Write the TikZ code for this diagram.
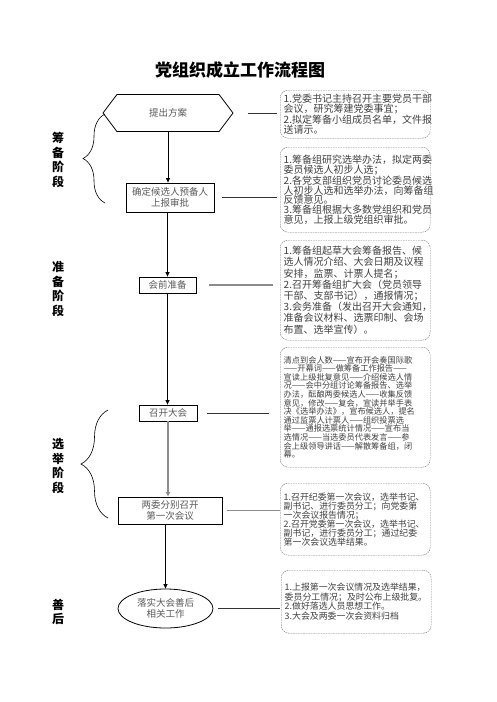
\documentclass[tikz,border=0pt]{standalone}
\usepackage{fontspec}
\setmainfont{Noto Sans CJK SC}
\usetikzlibrary{shapes.symbols,shapes.geometric,arrows.meta,decorations.pathreplacing}

\begin{document}
\begin{tikzpicture}[x=1pt,y=-1pt,
  flowbox/.style={draw,line width=0.8pt,inner sep=1pt,align=center,text=black!65,font=\fontsize{9.5}{11.5}\selectfont},
  notebox/.style={draw=black!55,dash pattern=on 1.6pt off 0.9pt,rounded corners=8pt,anchor=north west,
    minimum width=150pt,text width=143pt,inner sep=3.5pt,align=left,text=black!75},
  stagelabel/.style={font=\bfseries\fontsize{12}{14.5}\selectfont,align=center},
  link/.style={line width=0.7pt,black!80},
  graylink/.style={line width=1.6pt,black!45},
  flowarrow/.style={line width=0.7pt,-{Triangle[length=4.5pt,width=4pt]}}]
\useasboundingbox (0,0) rectangle (496,702);

% title
\node[font=\bfseries\fontsize{17}{20}\selectfont] (title) at (240,70) {党组织成立工作流程图};

% stage labels
\node[stagelabel] (s1) at (58,160) {筹\\备\\阶\\段};
\node[stagelabel] (s2) at (58,289) {准\\备\\阶\\段};
\node[stagelabel] (s3) at (58,466) {选\\举\\阶\\段};
\node[stagelabel] (s4) at (58,612) {善\\后};

% braces
\draw[line width=0.6pt,decorate,decoration={brace,amplitude=22pt}] (105,203) -- (105,114);
\draw[line width=0.6pt,decorate,decoration={brace,amplitude=27pt}] (108,518) -- (108,410);

% main flow
\node[flowbox,signal,signal to=east and west,signal pointer angle=106,
  minimum width=130pt,minimum height=37pt] (plan) at (168,113) {提出方案};
\node[flowbox,minimum width=88pt,minimum height=29pt] (confirm) at (170,197.5) {确定候选人预备人\\上报审批};
\node[flowbox,minimum width=57pt,minimum height=16pt] (prep) at (167.5,285) {会前准备};
\node[flowbox,minimum width=58pt,minimum height=16pt] (congress) at (168,413) {召开大会};
\node[flowbox,minimum width=104pt,minimum height=27pt] (first) at (170,510.5) {两委分别召开\\第一次会议};
\node[flowbox,ellipse,minimum width=95pt,minimum height=39pt] (after) at (165.5,608.5) {落实大会善后\\相关工作};

\draw[flowarrow] (plan.south) -- (plan.south |- confirm.north);
\draw[flowarrow] (confirm.south -| prep.north) -- (prep.north);
\draw[flowarrow] (prep.south) -- (prep.south |- congress.north);
\draw[flowarrow,graylink] (congress.south) -- (congress.south |- first.north);
\draw[flowarrow] (first.south -| after.north) -- (after.north);

% notes
\node[notebox,minimum height=48pt,font=\fontsize{10}{10}\selectfont] (note1) at (280,90)
  {1.党委书记主持召开主要党员干部\\会议，研究筹建党委事宜；\\2.拟定筹备小组成员名单，文件报\\送请示。};
\node[notebox,minimum height=85pt,font=\fontsize{10}{9.8}\selectfont] (note2) at (280,147)
  {1.筹备组研究选举办法，拟定两委\\委员候选人初步人选；\\2.各党支部组织党员讨论委员候选\\人初步人选和选举办法，向筹备组\\反馈意见。\\3.筹备组根据大多数党组织和党员\\意见，上报上级党组织审批。};
\node[notebox,minimum height=100pt,font=\fontsize{10}{11.2}\selectfont] (note3) at (280,240)
  {1.筹备组起草大会筹备报告、候\\选人情况介绍、大会日期及议程\\安排，监票、计票人提名；\\2.召开筹备组扩大会（党员领导\\干部、支部书记），通报情况；\\3.会务准备（发出召开大会通知，\\准备会议材料、选票印制、会场\\布置、选举宣传）。};
\node[notebox,minimum height=120pt,font=\fontsize{8.2}{8.6}\selectfont] (note4) at (280,347)
  {清点到会人数——宣布开会奏国际歌\\——开幕词——做筹备工作报告——\\宣读上级批复意见——介绍候选人情\\况——会中分组讨论筹备报告、选举\\办法，酝酿两委候选人——收集反馈\\意见，修改——复会，宣读并举手表\\决《选举办法》，宣布候选人，提名\\通过监票人计票人——组织投票选\\举——通报选票统计情况——宣布当\\选情况——当选委员代表发言——参\\会上级领导讲话——解散筹备组，闭\\幕。};
\node[notebox,minimum height=72pt,font=\fontsize{8.9}{9}\selectfont] (note5) at (280,483)
  {1.召开纪委第一次会议，选举书记、\\副书记、进行委员分工；向党委第\\一次会议报告情况；\\2.召开党委第一次会议，选举书记、\\副书记，进行委员分工；通过纪委\\第一次会议选举结果。};
\node[notebox,minimum height=63pt,font=\fontsize{8.9}{9.4}\selectfont] (note6) at (281,570)
  {1.上报第一次会议情况及选举结果，\\委员分工情况；及时公布上级批复。\\2.做好落选人员思想工作。\\3.大会及两委一次会资料归档\\[22pt]};

% links to notes
\draw[link,shorten <=14pt,shorten >=3pt] (plan.east) -- (plan.east -| note1.west);
\draw[link,shorten <=8pt,shorten >=3pt] (confirm.east) -- (confirm.east -| note2.west);
\draw[graylink,shorten <=13pt,shorten >=7pt] (prep.east) -- (prep.east -| note3.west);
\draw[link,shorten <=10pt,shorten >=11pt] (congress.east) -- (congress.east -| note4.west);
\draw[graylink,shorten <=5pt,shorten >=0pt] (first.east) -- (first.east -| note5.west);
\draw[link,shorten <=5pt,shorten >=1pt] (after.east) -- (after.east -| note6.west);
\end{tikzpicture}
\end{document}
